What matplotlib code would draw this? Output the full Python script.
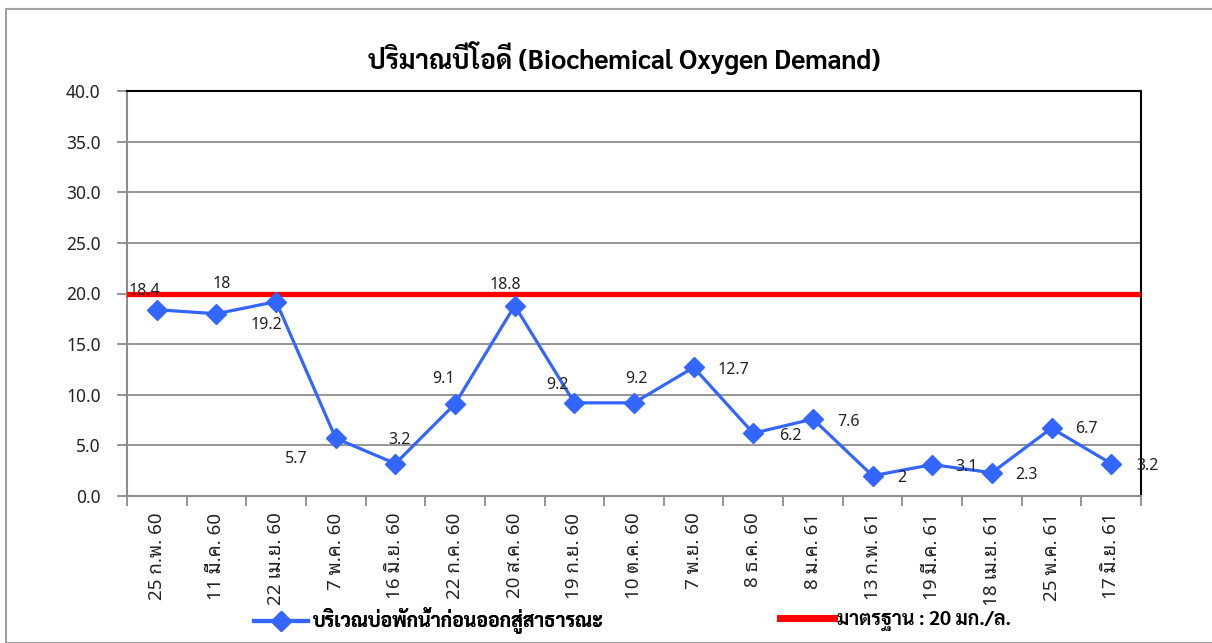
import matplotlib
matplotlib.use("Agg")
import matplotlib.pyplot as plt
from matplotlib.lines import Line2D
from matplotlib.patches import Rectangle

dates = ["25 ก.พ. 60", "11 มี.ค. 60", "22 เม.ย. 60", "7 พ.ค. 60", "16 มิ.ย. 60",
         "22 ก.ค. 60", "20 ส.ค. 60", "19 ก.ย. 60", "10 ต.ค. 60", "7 พ.ย. 60",
         "8 ธ.ค. 60", "8 ม.ค. 61", "13 ก.พ. 61", "19 มี.ค. 61", "18 เม.ย. 61",
         "25 พ.ค. 61", "17 มิ.ย. 61"]
bod = [18.4, 18, 19.2, 5.7, 3.2, 9.1, 18.8, 9.2, 9.2, 12.7, 6.2, 7.6, 2, 3.1, 2.3, 6.7, 3.2]
standard = 20
series_name = "บริเวณบ่อพักน้ำก่อนออกสู่สาธารณะ"
standard_name = "มาตรฐาน : 20 มก./ล."
title = "ปริมาณบีโอดี (Biochemical Oxygen Demand)"

# label offsets in pixels (dx, dy) from each point
label_off = [(-12, 19), (5, 30), (-10, -23), (-40, -21), (4, 24), (-11, 25), (-9, 21),
             (-17, 18), (2, 24), (40, -3), (37, -3), (36, -3), (29, -2), (34, -2),
             (35, -2), (35, -1), (36, -2)]

thai = ["Noto Sans Thai", "DejaVu Sans"]
looped = ["Noto Sans Thai Looped", "DejaVu Sans"]
bold = ["Sarabun", "DejaVu Sans"]
plt.rcParams["font.family"] = thai

blue = "#3366ff"
red = "#ff0000"
gray = "#8c8c8c"

fig = plt.figure(figsize=(12.12, 6.43), dpi=100)
fig.patches.append(Rectangle((6 / 1212, 0), 1.0, 1 - 9 / 643, transform=fig.transFigure,
                             fill=False, edgecolor="#a0a0a0", linewidth=1.5))
ax = fig.add_axes([127 / 1212, 1 - 496 / 643, (1141 - 127) / 1212, (496 - 91) / 643])

x = list(range(len(dates)))
ax.axhline(standard, color=red, linewidth=3.8, zorder=3)
ax.plot(x, bod, color=blue, linewidth=2.3, marker="D", markersize=10, zorder=4)

for i, v in enumerate(bod):
    dx, dy = label_off[i]
    ax.annotate(f"{v:g}", (i, v), xytext=(dx * 0.72, dy * 0.72), textcoords="offset points",
                ha="center", va="center", fontsize=11.5, color="#222222", zorder=5)

ax.set_xlim(-0.5, len(dates) - 0.5)
ax.set_ylim(0, 40)
ax.set_yticks(range(0, 41, 5))
ax.set_yticklabels([f"{t:.1f}" for t in range(0, 41, 5)], fontsize=12.5, color="#222222")
ax.yaxis.grid(True, color=gray, linewidth=1.3)
ax.set_axisbelow(True)

ax.set_xticks([i - 0.5 for i in range(len(dates) + 1)])
ax.set_xticklabels([])
ax.set_xticks(x, minor=True)
ax.set_xticklabels(dates, minor=True, rotation=90, fontsize=13.5, family=looped, color="#222222")
ax.tick_params(axis="x", which="minor", length=0, pad=12)
ax.tick_params(axis="x", which="major", length=7, color=gray, width=1.3)
ax.tick_params(axis="y", length=7, color=gray, width=1.3, pad=12)

for s in ["left", "bottom"]:
    ax.spines[s].set_color(gray)
    ax.spines[s].set_linewidth(1.5)
for s in ["top", "right"]:
    ax.spines[s].set_color("black")
    ax.spines[s].set_linewidth(1.5)

fig.text(624 / 1212, 1 - 58 / 643, title, ha="center", va="center", fontsize=19,
         fontweight="bold", family=bold)

h1 = Line2D([], [], color=blue, linewidth=3, marker="D", markersize=10)
h2 = Line2D([], [], color=red, linewidth=5)
leg1 = fig.legend([h1], [series_name], loc="center left", bbox_to_anchor=(254 / 1212, 1 - 621 / 643),
                  frameon=False, borderpad=0, borderaxespad=0, handlelength=2.8,
                  handletextpad=0.2, prop={"family": bold, "weight": "bold", "size": 14})
leg2 = fig.legend([h2], [standard_name], loc="center left", bbox_to_anchor=(780 / 1212, 1 - 621 / 643),
                  frameon=False, borderpad=0, borderaxespad=0, handlelength=2.8,
                  handletextpad=0.15, prop={"family": bold, "weight": "bold", "size": 14})
fig.add_artist(leg1)

fig.savefig("out.png")
